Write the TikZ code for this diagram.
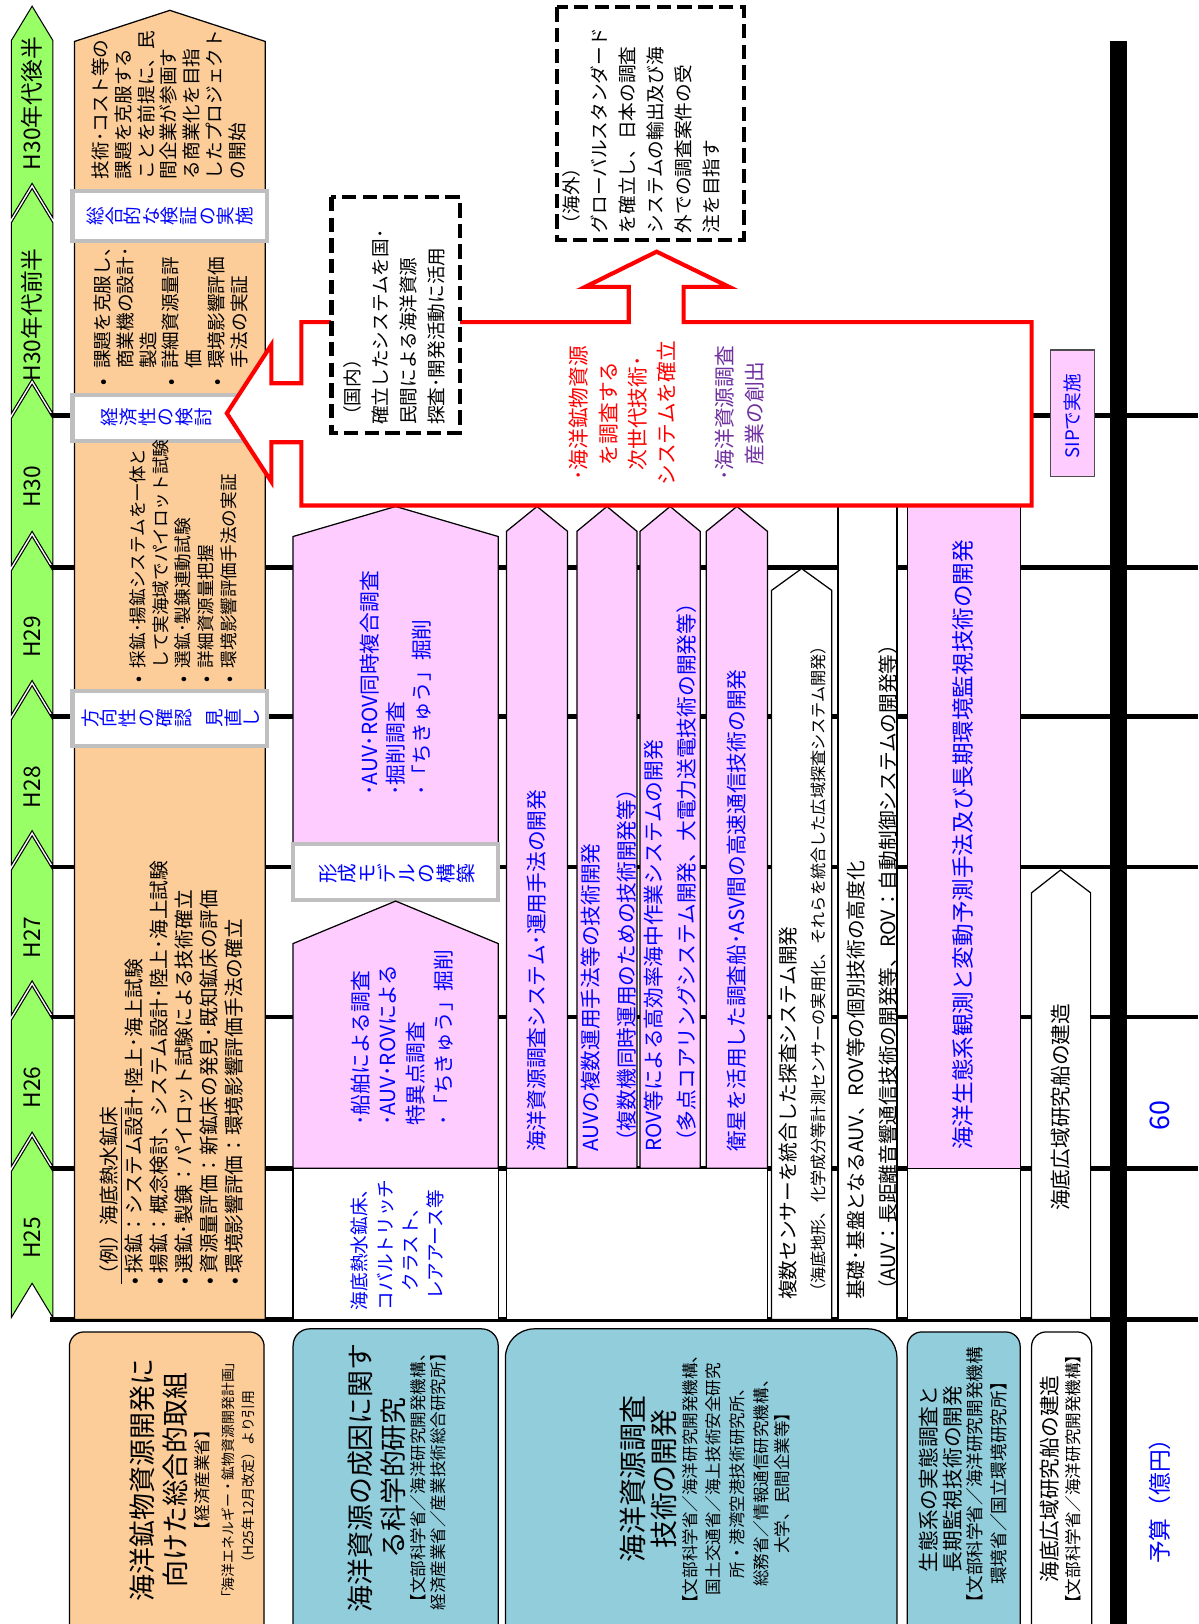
\documentclass[tikz,border=0pt]{standalone}
\usepackage{fontspec}
\usepackage{graphicx}
\setmainfont{Noto Sans CJK JP}
\definecolor{grn}{RGB}{153,255,102}
\definecolor{org}{RGB}{252,204,153}
\definecolor{pnk}{RGB}{255,204,255}
\definecolor{lblue}{RGB}{146,205,220}
\definecolor{gbord}{RGB}{191,191,191}
\definecolor{tblue}{RGB}{0,0,255}
\definecolor{purp}{RGB}{112,48,160}
\definecolor{redc}{RGB}{255,0,0}
\newcommand\fsz[2]{\fontsize{#1}{#2}\selectfont}
\newcommand\tchar[1]{\rotatebox[origin=c]{90}{\makebox[1em]{\rule[-0.12em]{0pt}{1em}#1}}}
\def\tateA#1{\ifx\relax#1\else\tchar{#1}\expandafter\tateA\fi}
\newcommand\tate[1]{\tateA#1\relax}
\tikzset{
 rt/.style={rotate=90, inner sep=0pt, outer sep=0pt},
 gridl/.style={line width=2.2pt},
 hdrs/.style={fill=grn, draw=black, line width=0.5pt, line join=miter},
 obox/.style={fill=org, draw=black, line width=0.6pt},
 gbox/.style={fill=white, draw=gbord, line width=2pt},
 pbox/.style={fill=pnk, draw=black, line width=0.6pt},
 wbox/.style={fill=white, draw=black, line width=0.6pt},
 redarr/.style={draw=redc, fill=white, line width=2pt, line join=miter},
 dbox/.style={fill=white, draw=black, line width=2pt, dash pattern=on 7pt off 3pt},
 bbox/.style={fill=lblue, draw=black, line width=0.6pt},
 hdrtxt/.style={rt, font=\fsz{11}{13}},
}
\newcommand\hdr[2]{\draw[hdrs] (11,#1+3) -- (31,#1-30) -- (51,#1+3) -- (51,#2-2) -- (31,#2-35) -- (11,#2-2) -- cycle;}
\begin{document}
\begin{tikzpicture}[x=0.5pt,y=-0.5pt]
\useasboundingbox (0,0) rectangle (1157,1568);
\fill[white] (0,0) rectangle (1157,1568);
% grid lines
\foreach \yy in {401,548,692,837,982,1128,1274} \draw[gridl] (48,\yy) -- (1157,\yy);
% header arrows
\hdr{36}{212}
\hdr{212}{401}
\hdr{401}{548}
\hdr{548}{692}
\hdr{692}{837}
\hdr{837}{982}
\hdr{982}{1128}
\hdr{1128}{1274}
\node[hdrtxt] (h1) at (31,100) {H30年代後半};
\node[hdrtxt] (h2) at (31,304) {H30年代前半};
\node[hdrtxt] (h3) at (31,470) {H30};
\node[hdrtxt] (h4) at (31,615) {H29};
\node[hdrtxt] (h5) at (31,760) {H28};
\node[hdrtxt] (h6) at (31,905) {H27};
\node[hdrtxt] (h7) at (31,1050) {H26};
\node[hdrtxt] (h8) at (31,1195) {H25};
% orange column
\draw[obox] (72,40) -- (164,10) -- (256,40) -- (256,1274) -- (72,1274) -- cycle;
\draw[gbox] (70,184) rectangle (258,233);
\draw[gbox] (70,381) rectangle (258,426);
\draw[gbox] (70,667) rectangle (258,720);
% column 2
\draw[pbox] (283,518) -- (382,489) -- (481,518) -- (481,815) -- (283,815) -- cycle;
\draw[gbox] (283,815) rectangle (481,869);
\draw[pbox] (283,911) -- (382,870) -- (481,911) -- (481,1128) -- (283,1128) -- cycle;
\draw[wbox] (283,1128) rectangle (481,1274);
% columns 3-6
\foreach \xl/\xr in {489/548, 557/615, 618/676, 682/741}
  \draw[pbox] (\xl,513) -- ({(\xl+\xr)/2},489) -- (\xr,513) -- (\xr,1128) -- (\xl,1128) -- cycle;
\draw[wbox] (489,1128) rectangle (741,1274);
% column 7-10
\draw[wbox] (745,570) -- (774,549) -- (803,570) -- (803,1274) -- (745,1274) -- cycle;
\draw[wbox] (809,488) rectangle (866,1274);
\draw[pbox] (876,488) rectangle (985,1128);
\draw[wbox] (876,1128) rectangle (985,1274);
\draw[wbox] (996,862) -- (1024,840) -- (1053,862) -- (1053,1274) -- (996,1274) -- cycle;
% red arrow
\draw[redarr] (219,399) -- (262,333) -- (262,370) -- (291,370) -- (291,311) -- (607,311) -- (607,277) -- (565,277) -- (634,243) -- (704,277) -- (660,277) -- (660,311) -- (996,311) -- (996,488) -- (291,488) -- (291,427) -- (262,427) -- (262,465) -- cycle;
% dashed boxes
\draw[dbox] (320,190) rectangle (444,418);
\draw[dbox] (538,7) rectangle (718,232);
% thick vertical line
\draw[line width=8pt] (1080,40) -- (1080,1568);
% SIP
\node[rt, pbox, draw=black!70, minimum width=61pt, minimum height=21.5pt] (sipbox) at (1035.5,399) {};
\node[rt, font=\fsz{9}{11}, text=tblue] (sip) at (1035.5,402) {SIPで実施};
% bottom boxes
\draw[obox, rounded corners=7pt] (67,1286) rectangle (255,1600);
\draw[bbox, rounded corners=8pt] (283,1283) rectangle (481,1600);
\draw[bbox, rounded corners=14pt] (488,1283) rectangle (866,1600);
\draw[bbox, rounded corners=7pt] (876,1286) rectangle (985,1600);
\draw[wbox, rounded corners=7pt] (996,1286) rectangle (1054,1600);

% ---- texts: orange column
\node[rt, anchor=west, align=left, font=\fsz{9}{11}] (o1) at (163,173) {技術･コスト等の\\課題を克服する\\ことを前提に、民\\間企業が参画す\\る商業化を目指\\したプロジェクト\\の開始};
\node[font=\fsz{9}{11}, text=tblue] (b1) at (164,209) {\tate{総合的な検証の実施}};
\node[rt, anchor=west, align=left, font=\fsz{9}{11}] (o2) at (165,356) {\llap{•\hspace{5pt}}課題を克服し、\\商業機の設計･\\製造\\\llap{•\hspace{5pt}}詳細資源量評\\価\\\llap{•\hspace{5pt}}環境影響評価\\手法の実証};
\node[anchor=west, font=\fsz{9}{11}, text=tblue] (b2) at (90,403) {\tate{経済性の検討}};
\node[rt, anchor=west, align=left, font=\fsz{8.5}{11}] (o3) at (177,645) {\llap{•\hspace{4pt}}採鉱･揚鉱システムを一体と\\して実海域でパイロット試験\\\llap{•\hspace{4pt}}選鉱･製錬連動試験\\\llap{•\hspace{4pt}}詳細資源量把握\\\llap{•\hspace{4pt}}環境影響評価手法の実証};
\node[font=\fsz{9}{11}, text=tblue] (b3) at (165,693) {\tate{方向性の確認}\hspace{6pt}\tate{見直し}};
\node[rt, anchor=west, align=left, font=\fsz{9.5}{12}] (o4) at (165.5,1240) {\underline{（例）海底熱水鉱床}\\•\hspace{2pt}採鉱：システム設計･陸上･海上試験\\•\hspace{2pt}揚鉱：概念検討、システム設計･陸上･海上試験\\•\hspace{2pt}選鉱･製錬：パイロット試験による技術確立\\•\hspace{2pt}資源量評価：新鉱床の発見･既知鉱床の評価\\•\hspace{2pt}環境影響評価：環境影響評価手法の確立};

% ---- column 2 texts
\node[rt, anchor=west, align=left, font=\fsz{10}{12.5}, text=tblue] (p2) at (382,768) {･AUV･ROV同時複合調査\\･掘削調査\\･「ちきゅう」掘削};
\node[font=\fsz{9.5}{11}, text=tblue] (b4) at (383,844) {\tate{形成モデルの構築}};
\node[rt, anchor=west, align=left, font=\fsz{10}{13.3}, text=tblue] (p1) at (388,1087) {･船舶による調査\\･AUV･ROVによる\\特異点調査\\･「ちきゅう」掘削};
\node[rt, align=center, font=\fsz{9}{12.2}, text=tblue] (p0) at (384,1202) {海底熱水鉱床、\\コバルトリッチ\\クラスト、\\レアアース等};

% ---- columns 3-10 texts
\node[rt, anchor=west, font=\fsz{10}{12}, text=tblue] (c3) at (518,1112) {海洋資源調査システム･運用手法の開発};
\node[rt, anchor=west, align=left, font=\fsz{10}{17.5}, text=tblue] (c4) at (587.5,1112) {AUVの複数運用手法等の技術開発\\（複数機同時運用のための技術開発等）};
\node[rt, anchor=west, align=left, font=\fsz{10}{16}, text=tblue] (c5) at (647,1112) {ROV等による高効率海中作業システムの開発\\（多点コアリングシステム開発、大電力送電技術の開発等）};
\node[rt, anchor=west, font=\fsz{10}{12}, text=tblue] (c6) at (711.5,1112) {衛星を活用した調査船･ASV間の高速通信技術の開発};
\node[rt, anchor=west, font=\fsz{9.5}{11}] (c7a) at (761,1255) {複数センサーを統合した探査システム開発};
\node[rt, anchor=west, font=\fsz{7.8}{10}] (c7b) at (790,1255) {（海底地形、化学成分等計測センサーの実用化、それらを統合した広域探査システム開発）};
\node[rt, anchor=west, font=\fsz{9.5}{11}] (c8a) at (826,1255) {基礎･基盤となるAUV、ROV等の個別技術の高度化};
\node[rt, anchor=west, font=\fsz{9.5}{11}] (c8b) at (857,1255) {（AUV：長距離音響通信技術の開発等、ROV：自動制御システムの開発等）};
\node[rt, anchor=west, font=\fsz{10.9}{12}, text=tblue] (c9) at (930,1110) {海洋生態系観測と変動予測手法及び長期環境監視技術の開発};
\node[rt, font=\fsz{10}{12}] (c10) at (1024,1069) {海底広域研究船の建造};

% ---- red arrow texts and dashed boxes
\node[rt, align=center, font=\fsz{10}{14.2}, text=redc] (r1) at (601.5,399) {･海洋鉱物資源\\を調査する\\次世代技術･\\システムを確立};
\node[rt, align=center, font=\fsz{10}{14.2}, text=purp] (r2) at (714,399) {･海洋資源調査\\産業の創出};
\node[rt, anchor=west, align=left, font=\fsz{9}{13.5}] (d1) at (380.5,410) {（国内）\\確立したシステムを国･\\民間による海洋資源\\探査･開発活動に活用};
\node[rt, anchor=west, align=left, font=\fsz{9}{13.5}] (d2) at (619.5,225) {（海外）\\グローバルスタンダード\\を確立し、日本の調査\\システムの輸出及び海\\外での調査案件の受\\注を目指す};

% ---- budget
\node[rt, font=\fsz{13}{15}, text=tblue] (sixty) at (1120,1077) {60};
\node[rt, font=\fsz{11}{13}, text=tblue] (yosan) at (1120,1444) {予算（億円）};

% ---- bottom box texts
\node[rt, font=\fsz{13}{15}] (a1) at (137,1429) {海洋鉱物資源開発に};
\node[rt, font=\fsz{13}{15}] (a2) at (169,1429) {向けた総合的取組};
\node[rt, font=\fsz{8}{10}] (a3) at (195,1429) {【経済産業省】};
\node[rt, font=\fsz{6.7}{8}] (a4) at (220,1429) {「海洋エネルギー・鉱物資源開発計画」};
\node[rt, font=\fsz{6.7}{8}] (a5) at (240,1429) {（H25年12月改定）より引用};

\node[rt, font=\fsz{13}{15}] (bb1) at (348,1427) {海洋資源の成因に関す};
\node[rt, font=\fsz{13}{15}] (bb2) at (380,1427) {る科学的研究};
\node[rt, font=\fsz{8}{10}] (bb3) at (404,1427) {【文部科学省／海洋研究開発機構、};
\node[rt, font=\fsz{8}{10}] (bb4) at (423,1427) {経済産業省／産業技術総合研究所】};

\node[rt, font=\fsz{13.5}{15}] (cc1) at (611,1428) {海洋資源調査};
\node[rt, font=\fsz{13.5}{15}] (cc2) at (641,1428) {技術の開発};
\node[rt, font=\fsz{8}{10}] (cc3) at (666,1428) {【文部科学省／海洋研究開発機構、};
\node[rt, font=\fsz{8}{10}] (cc4) at (689,1428) {国土交通省／海上技術安全研究};
\node[rt, font=\fsz{8}{10}] (cc5) at (712,1428) {所・港湾空港技術研究所、};
\node[rt, font=\fsz{8}{10}] (cc6) at (735,1428) {総務省／情報通信研究機構、};
\node[rt, font=\fsz{8}{10}] (cc7) at (755,1428) {大学、民間企業等】};

\node[rt, font=\fsz{10}{12}] (dd1) at (897,1428) {生態系の実態調査と};
\node[rt, font=\fsz{10}{12}] (dd2) at (920,1428) {長期監視技術の開発};
\node[rt, font=\fsz{8.5}{10}] (dd3) at (941,1428) {【文部科学省／海洋研究開発機構};
\node[rt, font=\fsz{8.5}{10}] (dd4) at (964,1428) {環境省／国立環境研究所】};

\node[rt, font=\fsz{10}{12}] (ee1) at (1013,1428) {海底広域研究船の建造};
\node[rt, font=\fsz{8}{10}] (ee2) at (1036,1428) {【文部科学省／海洋研究開発機構】};
\end{tikzpicture}
\end{document}
